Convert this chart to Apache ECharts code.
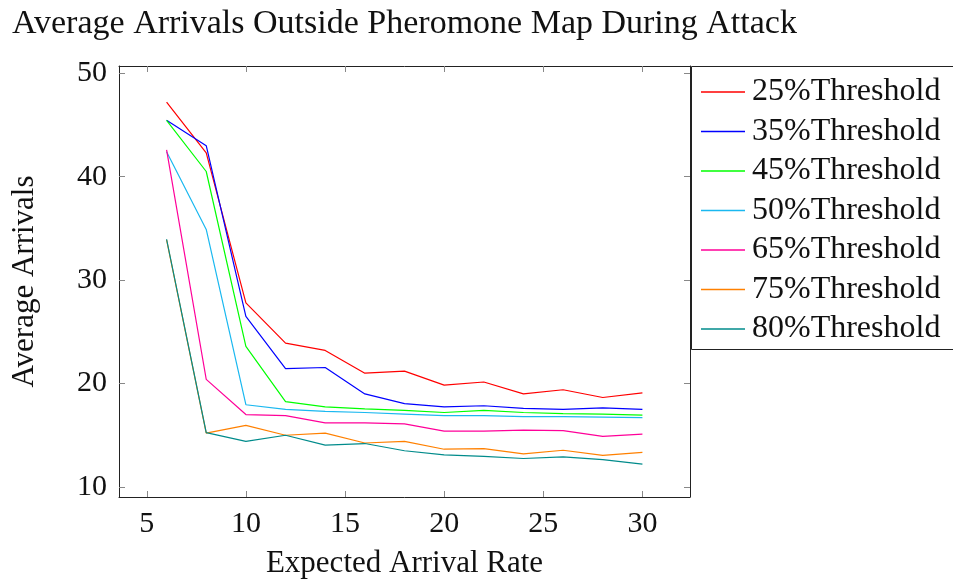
<!DOCTYPE html>
<html>
<head>
<meta charset="utf-8">
<script src="https://cdn.jsdelivr.net/npm/echarts@6/dist/echarts.min.js"></script>
<style>html,body{margin:0;padding:0;background:#fff;}#c{width:953px;height:579px;}</style>
</head>
<body>
<div id="c"></div>
<script>
const xValues = [6, 8, 10, 12, 14, 16, 18, 20, 22, 24, 26, 28, 30];
const seriesNames = ['25%Threshold', '35%Threshold', '45%Threshold', '50%Threshold', '65%Threshold', '75%Threshold', '80%Threshold'];
const t25 = [47.2, 42.3, 27.8, 23.9, 23.2, 21.0, 21.2, 19.85, 20.15, 19.0, 19.4, 18.65, 19.1];
const t35 = [45.45, 43.0, 26.5, 21.45, 21.55, 19.0, 18.05, 17.75, 17.85, 17.6, 17.5, 17.65, 17.5];
const t45 = [45.45, 40.5, 23.6, 18.25, 17.75, 17.55, 17.4, 17.2, 17.4, 17.2, 17.1, 17.05, 16.95];
const t50 = [42.4, 34.9, 17.95, 17.5, 17.3, 17.2, 17.05, 16.9, 16.9, 16.8, 16.8, 16.75, 16.7];
const t65 = [42.6, 20.4, 17.0, 16.9, 16.2, 16.2, 16.1, 15.4, 15.4, 15.5, 15.45, 14.9, 15.1];
const t75 = [33.9, 15.2, 15.95, 15.0, 15.2, 14.25, 14.4, 13.65, 13.7, 13.2, 13.55, 13.05, 13.35];
const t80 = [33.95, 15.25, 14.4, 15.0, 14.05, 14.2, 13.5, 13.1, 12.95, 12.75, 12.9, 12.65, 12.2];
const allValues = [t25, t35, t45, t50, t65, t75, t80];
const colors = ['#ff0000', '#0000ff', '#00ff00', '#1ab8f0', '#ff0099', '#ff8000', '#008b8b'];
const xTicks = [5, 10, 15, 20, 25, 30];
const yTicks = [10, 20, 30, 40, 50];

const FONT = 'Liberation Serif';
const chart = echarts.init(document.getElementById('c'), null, {renderer: 'canvas'});

const tickStyle = {show: true, inside: true, length: 6, lineStyle: {color: '#888', width: 1}};
function xAx(pos, labels) {
  return {
    type: 'value', position: pos, min: 3.6, max: 32.4,
    axisLine: {show: true, onZero: false, lineStyle: {color: '#222', width: 1}},
    axisTick: Object.assign({customValues: xTicks}, tickStyle),
    axisLabel: {show: labels, customValues: xTicks, fontFamily: FONT, fontSize: 30, color: '#111', margin: 12},
    splitLine: {show: false},
    name: labels ? 'Expected Arrival Rate' : '', nameLocation: 'middle', nameGap: 51,
    nameTextStyle: {fontFamily: FONT, fontSize: 31, color: '#111'}
  };
}
function yAx(pos, labels) {
  return {
    type: 'value', position: pos, min: 9.03, max: 50.7,
    axisLine: {show: true, onZero: false, lineStyle: {color: '#222', width: 1}},
    axisTick: Object.assign({customValues: yTicks}, tickStyle),
    axisLabel: {show: labels, customValues: yTicks, fontFamily: FONT, fontSize: 30, color: '#111', margin: 12},
    splitLine: {show: false},
    name: labels ? 'Average Arrivals' : '', nameLocation: 'middle', nameGap: 79,
    nameTextStyle: {fontFamily: FONT, fontSize: 31, color: '#111'}
  };
}

chart.setOption({
  animation: false,
  backgroundColor: '#fff',
  title: {text: 'Average Arrivals Outside Pheromone Map During Attack', left: 7, top: 2,
    textStyle: {fontFamily: FONT, fontSize: 34, fontWeight: 'normal', color: '#111'}},
  grid: {left: 119, right: 263, top: 66, bottom: 82, containLabel: false, outerBoundsMode: 'none'},
  graphic: [{
    type: 'rect', z: 0, silent: true,
    shape: {x: 691.5, y: 66.5, width: 320, height: 283},
    style: {fill: '#fff', stroke: '#222', lineWidth: 1}
  }],
  legend: {
    orient: 'vertical', left: 691, top: 66, itemWidth: 44, itemHeight: 1.3, itemGap: 7.5,
    icon: 'rect', z: 5,
    padding: [10, 10, 8, 10],
    textStyle: {fontFamily: FONT, fontSize: 32, lineHeight: 32, color: '#111', padding: [0, 0, 0, 2]},
    data: seriesNames
  },
  xAxis: [xAx('bottom', true), xAx('top', false)],
  yAxis: [yAx('left', true), yAx('right', false)],
  series: seriesNames.map((n, i) => ({
    name: n, type: 'line', symbol: 'none', color: colors[i],
    lineStyle: {width: 1.2, color: colors[i]},
    data: xValues.map((x, j) => [x, allValues[i][j]])
  }))
});
</script>
</body>
</html>
